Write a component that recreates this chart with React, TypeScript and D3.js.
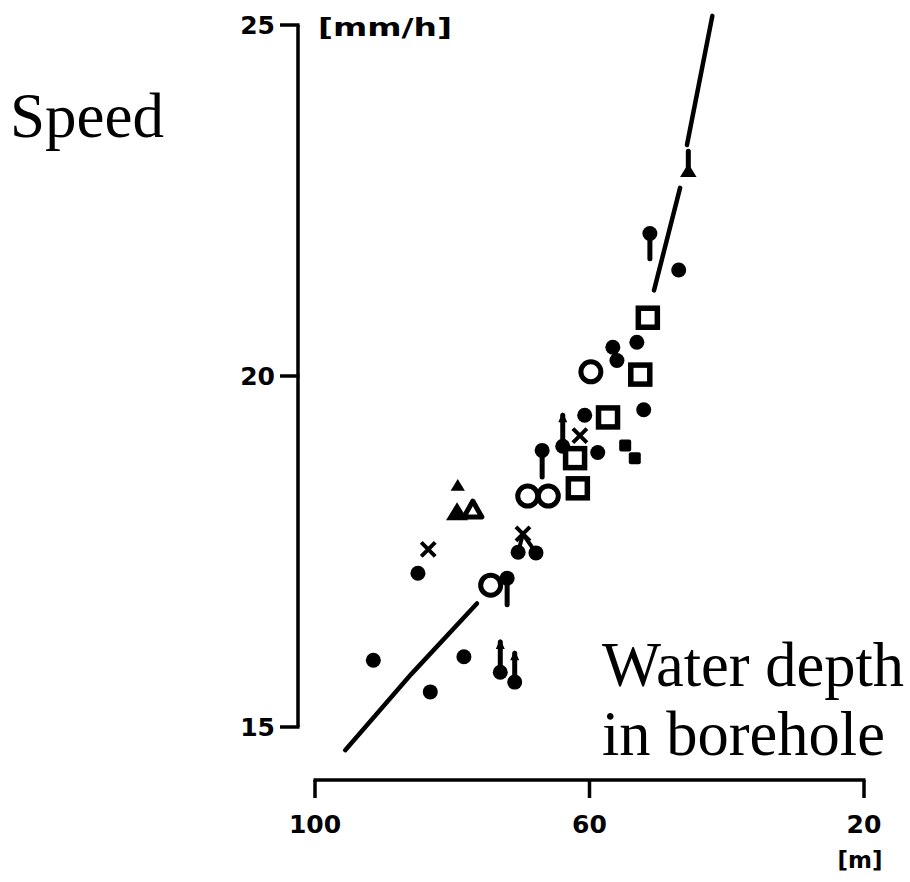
import React from "react";
import * as d3 from "d3";

// Water depth in borehole [m] vs. speed [mm/h]
const depthTicks = [100, 60, 20];
const speedTicks = [25, 20, 15];

// Filled dots: [depth, speed]
const dots: [number, number][] = [
  [91.5, 15.95], [83.2, 15.5], [78.3, 16.0], [85.0, 17.19], [70.4, 17.49],
  [67.8, 17.48], [72.0, 17.12], [60.7, 19.44], [52.1, 19.52], [58.8, 18.91],
  [53.1, 20.48], [56.6, 20.41], [56.0, 20.22], [51.2, 22.03], [47.0, 21.51],
  [66.9, 18.94], [73.0, 15.78], [70.9, 15.64], [63.9, 19.0],
];
const smallSquares: [number, number][] = [[54.8, 19.01], [53.4, 18.83]];
const openCircles: [number, number][] = [
  [59.8, 20.06], [69.0, 18.29], [66.0, 18.29], [74.4, 17.02],
];
const openSquares: [number, number][] = [
  [51.5, 20.83], [52.6, 20.02], [57.3, 19.41], [62.1, 18.83], [61.7, 18.4],
];
const crosses: [number, number][] = [[83.5, 17.53], [69.7, 17.75], [61.4, 19.15]];
// [depth, speed, size]
const filledTriangles: [number, number, number][] = [
  [79.2, 18.44, 13], [79.3, 18.06, 20], [45.6, 22.92, 15],
];
const openTriangles: [number, number][] = [[77.0, 18.09]];

// Vertical range bars: [depth, speed from, speed to, arrow tip]
const bars: [number, number, number, boolean][] = [
  [72.0, 17.12, 16.74, false],
  [51.2, 22.03, 21.67, false],
  [66.9, 18.94, 18.56, false],
  [73.0, 15.78, 16.21, true],
  [70.9, 15.64, 16.05, true],
  [45.6, 22.92, 23.2, false],
  [63.9, 19.0, 19.44, true],
  [56.3, 20.41, 20.22, false],
];
// Links from a cross to neighbouring dots
const links: [number, number, number, number][] = [
  [69.7, 17.75, 70.4, 17.49],
  [69.7, 17.75, 67.8, 17.48],
];

// Fitted trend, drawn in pieces
const trendLowDepth = [95.6, 86.0, 76.4];
const trendLowSpeed = [14.67, 15.75, 16.76];
const trendMidDepth = [50.6, 46.8];
const trendMidSpeed = [21.22, 22.68];
const trendTopDepth = [45.8, 42.1];
const trendTopSpeed = [23.29, 25.13];

const W = 910;
const H = 882;
const x = d3.scaleLinear().domain([100, 20]).range([315, 864]);
const y = d3.scaleLinear().domain([15, 25]).range([727, 25]);
const axisX = 298;
const axisY = 780;

const line = d3
  .line<[number, number]>()
  .x((d) => x(d[0]))
  .y((d) => y(d[1]));

const zip = (a: number[], b: number[]) =>
  a.map((v, i) => [v, b[i]] as [number, number]);

const tickFont = {
  fontFamily: "'DejaVu Sans', sans-serif",
  fontWeight: 700 as const,
  fontSize: 25,
};
const serif = "'Liberation Serif', 'Times New Roman', serif";

export default function App() {
  const trend = [
    zip(trendLowDepth, trendLowSpeed),
    zip(trendMidDepth, trendMidSpeed),
    zip(trendTopDepth, trendTopSpeed),
  ];
  return (
    <svg
      width={W}
      height={H}
      style={{ position: "absolute", left: 0, top: 0, background: "#fff" }}
    >
      <rect width={W} height={H} fill="#fff" />
      {/* y axis */}
      <line x1={axisX} x2={axisX} y1={y(25)} y2={y(15)} stroke="#000" strokeWidth={3.5} />
      {speedTicks.map((t) => (
        <g key={t}>
          <line x1={axisX - 18} x2={axisX + 1.5} y1={y(t)} y2={y(t)} stroke="#000" strokeWidth={3.5} />
          <text x={axisX - 23} y={y(t)} dy="0.36em" textAnchor="end" {...tickFont}>
            {t}
          </text>
        </g>
      ))}
      <text x={318} y={y(25) + 2} dy="0.36em" {...tickFont} textLength={134} lengthAdjust="spacingAndGlyphs">
        [mm/h]
      </text>

      {/* x axis */}
      <line x1={x(100) - 1.5} x2={x(20) + 1.5} y1={axisY} y2={axisY} stroke="#000" strokeWidth={3.5} />
      {depthTicks.map((t) => (
        <g key={t}>
          <line x1={x(t)} x2={x(t)} y1={axisY} y2={axisY + 18} stroke="#000" strokeWidth={3.5} />
          <text x={x(t)} y={833} textAnchor="middle" {...tickFont}>
            {t}
          </text>
        </g>
      ))}
      <text x={x(20) - 4} y={868} textAnchor="middle" {...tickFont} fontSize={23}>
        [m]
      </text>

      {/* trend */}
      {trend.map((seg, i) => (
        <path key={i} d={line(seg) || ""} fill="none" stroke="#000" strokeWidth={4.5} strokeLinecap="round" />
      ))}

      {/* bars and links */}
      {bars.map(([dp, s0, s1, tip], i) => (
        <g key={i}>
          <line x1={x(dp)} x2={x(dp)} y1={y(s0)} y2={y(s1)} stroke="#000" strokeWidth={5} strokeLinecap="round" />
          {tip && (
            <path
              d={`M${x(dp) - 4.5},${y(s1) + 7} L${x(dp)},${y(s1) - 3} L${x(dp) + 4.5},${y(s1) + 7} Z`}
              fill="#000"
            />
          )}
        </g>
      ))}
      {links.map(([d0, s0, d1, s1], i) => (
        <line key={i} x1={x(d0)} y1={y(s0)} x2={x(d1)} y2={y(s1)} stroke="#000" strokeWidth={4} />
      ))}

      {/* markers */}
      {dots.map(([dp, s], i) => (
        <circle key={i} cx={x(dp)} cy={y(s)} r={7.5} fill="#000" />
      ))}
      {smallSquares.map(([dp, s], i) => (
        <rect key={i} x={x(dp) - 6} y={y(s) - 6} width={12} height={12} rx={2} fill="#000" />
      ))}
      {openCircles.map(([dp, s], i) => (
        <circle key={i} cx={x(dp)} cy={y(s)} r={10} fill="#fff" stroke="#000" strokeWidth={5} />
      ))}
      {openSquares.map(([dp, s], i) => (
        <rect key={i} x={x(dp) - 9.5} y={y(s) - 9.5} width={19} height={19} fill="#fff" stroke="#000" strokeWidth={5.5} />
      ))}
      {crosses.map(([dp, s], i) => (
        <path
          key={i}
          d={`M${x(dp) - 7},${y(s) - 7} L${x(dp) + 7},${y(s) + 7} M${x(dp) + 7},${y(s) - 7} L${x(dp) - 7},${y(s) + 7}`}
          stroke="#000"
          strokeWidth={4}
        />
      ))}
      {filledTriangles.map(([dp, s, sz], i) => (
        <path
          key={i}
          d={`M${x(dp)},${y(s) - sz * 0.5} L${x(dp) + sz * 0.55},${y(s) + sz * 0.4} L${x(dp) - sz * 0.55},${y(s) + sz * 0.4} Z`}
          fill="#000"
        />
      ))}
      {openTriangles.map(([dp, s], i) => (
        <path
          key={i}
          d={`M${x(dp)},${y(s) - 9} L${x(dp) + 9},${y(s) + 7} L${x(dp) - 9},${y(s) + 7} Z`}
          fill="#fff"
          stroke="#000"
          strokeWidth={5}
          strokeLinejoin="round"
        />
      ))}

      {/* titles */}
      <text x={10} y={137} fontFamily={serif} fontSize={63}>
        Speed
      </text>
      <text x={602} y={686} fontFamily={serif} fontSize={62.5}>
        Water depth
      </text>
      <text x={602} y={755} fontFamily={serif} fontSize={62.5}>
        in borehole
      </text>
    </svg>
  );
}
